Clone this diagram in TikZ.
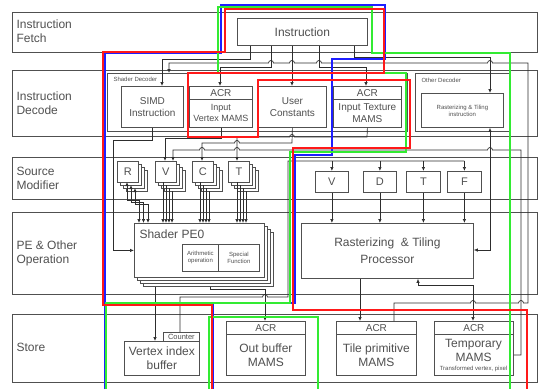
\documentclass[tikz,border=0pt]{standalone}
\usepackage{fontspec}
\setmainfont{Liberation Sans}
\usetikzlibrary{positioning,calc,arrows.meta}
\definecolor{DiagLine}{RGB}{45,45,45}
\definecolor{DiagBox}{RGB}{80,80,80}
\definecolor{DiagText}{RGB}{80,80,80}
\definecolor{MarkRed}{RGB}{255,25,25}
\definecolor{MarkGreen}{RGB}{50,235,50}
\definecolor{MarkBlue}{RGB}{30,30,255}

\tikzset{
  lane/.style={draw=DiagBox, line width=0.8pt, anchor=north west, inner sep=0pt},
  blk/.style={draw=DiagBox, line width=0.8pt, fill=white, inner sep=0pt, anchor=north west, align=center, text=DiagText},
  lanetext/.style={anchor=west, align=left, text=DiagText, font=\fontsize{12}{14}\selectfont},
  tinytext/.style={anchor=west, text=DiagText, font=\fontsize{6}{7}\selectfont},
  wire/.style={draw=DiagLine, line width=0.7pt},
  arr/.style={wire, -{Latex[length=4pt,width=3.5pt]}},
  darr/.style={wire, {Latex[length=4pt,width=3.5pt]}-{Latex[length=4pt,width=3.5pt]}},
  zone/.style={line width=1.2pt}
}

\begin{document}
\begin{tikzpicture}[x=1pt, y=-1pt]
    \useasboundingbox (0,0) rectangle (538,389);

    % lanes
    \node[lane, minimum width=525pt, minimum height=40pt] (fetch) at (12,12) {};
    \node[lane, minimum width=525pt, minimum height=66pt] (decode) at (12,70) {};
    \node[lane, minimum width=525pt, minimum height=42pt] (srcmod) at (12,157) {};
    \node[lane, minimum width=525pt, minimum height=82pt] (peop) at (12,212) {};
    \node[lane, minimum width=525pt, minimum height=68pt] (store) at (12,314) {};
    \node[lanetext] (fetchlbl) at (13,31) {Instruction\\Fetch};
    \node[lanetext] (decodelbl) at (13,103) {Instruction\\Decode};
    \node[lanetext] (srcmodlbl) at (13,178) {Source\\Modifier};
    \node[lanetext] (peoplbl) at (13,253) {PE \& Other\\Operation};
    \node[lanetext] (storelbl) at (13,347) {Store};

    % fetch and decode
    \node[blk, minimum width=130pt, minimum height=27pt, font=\fontsize{12}{14}\selectfont] (instr) at (237,18) {Instruction};
    \node[blk, minimum width=300pt, minimum height=58pt] (shdec) at (107,73) {};
    \node[tinytext] (shdeclbl) at (110,79) {Shader Decoder};
    \node[blk, minimum width=94pt, minimum height=58pt] (othdec) at (415,73) {};
    \node[tinytext] (othdeclbl) at (418,80) {Other Decoder};
    \node[blk, minimum width=82pt, minimum height=34pt, font=\fontsize{6}{7}\selectfont] (rtinst) at (421,93) {Rasterizing \& Tiling\\instruction};
    \node[blk, minimum width=62pt, minimum height=41pt, font=\fontsize{10}{12}\selectfont] (simd) at (121,86) {SIMD\\Instruction};
    \node[blk, minimum width=63pt, minimum height=13pt, font=\fontsize{10}{12}\selectfont] (ivacr) at (189,86) {ACR};
    \node[blk, minimum width=63pt, minimum height=28pt, font=\fontsize{9}{11}\selectfont] (ivm) at (189,99) {Input\\Vertex MAMS};
    \node[blk, minimum width=68pt, minimum height=41pt, font=\fontsize{10}{12}\selectfont] (ucon) at (258,86) {User\\Constants};
    \node[blk, minimum width=68pt, minimum height=13pt, font=\fontsize{10}{12}\selectfont] (itacr) at (333,86) {ACR};
    \node[blk, minimum width=68pt, minimum height=28pt, font=\fontsize{10}{12}\selectfont] (itm) at (333,99) {Input Texture\\MAMS};

    % source modifiers
    \foreach \n/\x in {R/117, V/155, C/192, T/228} {
      \foreach \k in {3,2,1}
        \node[blk, minimum width=21pt, minimum height=21pt] (\n\k) at (\x+3*\k,161+3*\k) {};
      \node[blk, minimum width=21pt, minimum height=21pt, font=\fontsize{11}{13}\selectfont] (\n) at (\x,161) {\n};
    }
    \node[blk, minimum width=33pt, minimum height=21pt, font=\fontsize{11}{13}\selectfont] (rV) at (315,171) {V};
    \node[blk, minimum width=33pt, minimum height=21pt, font=\fontsize{11}{13}\selectfont] (rD) at (363,171) {D};
    \node[blk, minimum width=34pt, minimum height=21pt, font=\fontsize{11}{13}\selectfont] (rT) at (406,171) {T};
    \node[blk, minimum width=34pt, minimum height=21pt, font=\fontsize{11}{13}\selectfont] (rF) at (447,171) {F};

    % processing
    \foreach \k in {3,2,1}
      \node[blk, minimum width=130pt, minimum height=54pt] (pe\k) at (134+3*\k,223+3*\k) {};
    \node[blk, minimum width=130pt, minimum height=54pt] (pe0) at (134,223) {};
    \node[anchor=west, text=DiagText, font=\fontsize{12}{14}\selectfont] (pe0lbl) at (136,234) {Shader PE0};
    \node[blk, minimum width=36pt, minimum height=27pt, font=\fontsize{6}{7}\selectfont] (arith) at (182,244) {Arithmetic\\operation};
    \node[blk, minimum width=41pt, minimum height=27pt, font=\fontsize{6}{7}\selectfont] (special) at (218,244) {Special\\Function};
    \node[blk, minimum width=172pt, minimum height=55pt, font=\fontsize{12}{17}\selectfont] (rtp) at (301,223) {Rasterizing\ \ \& Tiling\\Processor};

    % store
    \node[blk, minimum width=75pt, minimum height=34pt, font=\fontsize{12}{14}\selectfont] (vib) at (124,341) {Vertex index\\buffer};
    \node[blk, minimum width=36pt, minimum height=9pt, font=\fontsize{7.5}{8}\selectfont] (counter) at (163,332) {Counter};
    \node[blk, minimum width=79pt, minimum height=13pt, font=\fontsize{10}{12}\selectfont] (obacr) at (226,321) {ACR};
    \node[blk, minimum width=79pt, minimum height=41pt, font=\fontsize{12}{14}\selectfont] (obm) at (226,334) {Out buffer\\MAMS};
    \node[blk, minimum width=80pt, minimum height=13pt, font=\fontsize{10}{12}\selectfont] (tpacr) at (336,321) {ACR};
    \node[blk, minimum width=80pt, minimum height=41pt, font=\fontsize{12}{14}\selectfont] (tpm) at (336,334) {Tile primitive\\MAMS};
    \node[blk, minimum width=79pt, minimum height=13pt, font=\fontsize{10}{12}\selectfont] (tmacr) at (434,321) {ACR};
    \node[blk, minimum width=79pt, minimum height=41pt] (tmm) at (434,334) {};
    \node[align=center, text=DiagText, font=\fontsize{12}{14}\selectfont] (tmtxt) at (473.5,350) {Temporary\\MAMS};
    \node[text=DiagText, font=\fontsize{6}{7}\selectfont] (tmnote) at (473.5,369) {Transformed vertex, pixel};

    % instruction fan-out
    \draw[arr] (instr.south -| 250,0) |- (162,59) -- (simd.north -| 162,0);
    \draw[arr] (instr.south -| 271,0) |- (220,67) -- (ivacr.north -| 220,0);
    \draw[arr] (instr.south -| 292,0) -- (ucon.north -| 292,0);
    \draw[arr] (instr.south -| 319,0) |- (366,67) -- (itacr.north -| 366,0);
    \draw[arr] (instr.south -| 354,0) |- (490,57) -- (rtinst.north -| 490,0);
    % tile primitive back to shader decoder
    \draw[arr] (tpacr.north -| 394,0) -- (394,303) -- (470.5,303) arc (180:360:2.5) -- (518.5,303) arc (180:360:2.5)
      -- (528,303) -- (528,63) -- (492.5,63) arc (0:-180:2.5) -- (321.5,63) arc (0:-180:2.5)
      -- (294.5,63) arc (0:-180:2.5) -- (273.5,63) arc (0:-180:2.5) -- (169,63) -- (shdec.north -| 169,0);
    \draw[darr] (rtinst.south -| 490,0) |- (rtp.east |- 0,250);

    % decoders to source modifiers
    \draw[arr] (simd.south) |- (113,140) |- (pe0.west);
    \draw[arr] (ivm.south) |- (165,138) -- (V.north -| 165,0);
    \draw[arr] (ucon.south) -- (292,143) -- (239.5,143) arc (0:-180:2.5) -- (202,143) -- (C.north -| 202,0);
    \draw[arr] (itm.south) -- (367,137) -- (294.5,137) arc (0:-180:2.5) -- (237,137) -- (T.north -| 237,0);
    \draw[arr] (tmm.east |- 0,355) -| (521,150) -- (492.5,150) arc (0:-180:2.5) -- (239.5,150) arc (0:-180:2.5)
      -- (204.5,150) arc (0:-180:2.5) -- (173,150) -- (V.north -| 173,0);

    % source modifiers to PE0
    \foreach \i in {0,1,2}
      \draw[darr] (127+4*\i,182+3*\i) |- (139+4.5*\i,200+2*\i) -- (139+4.5*\i,223);
    \foreach \x in {163,200,237}
      \foreach \i in {0,...,3}
        \draw[arr] (\x+3*\i,182+3*\i) -- (\x+3*\i,223);

    % counter to raster inputs
    \draw[wire] (counter.north -| 180,0) |- (262.5,297) arc (180:360:2.5) -- (288,297) -- (288,161) -- (rF.north |- 0,161);
    \foreach \n in {rV,rD,rT,rF} {
      \draw[arr] (\n.north |- 0,161) -- (\n.north);
      \draw[arr] (\n.south) -- (\n.south |- rtp.north);
    }

    % outputs to store
    \draw[arr] (rtp.south -| 360,0) -- (tpacr.north -| 360,0);
    \draw[darr] (rtp.south -| 418,0) |- (473,285) -- (tmacr.north -| 473,0);
    \draw[arr] (pe3.south -| 210,0) |- (265,289) -- (obacr.north -| 265,0);
    \draw[arr] (pe3.south -| 155,0) -- (vib.north -| 155,0);

    % marked regions
    \draw[zone, MarkBlue] (105,389) -- (105,53) -- (221,53) -- (221,5) -- (385,5) -- (385,59) -- (332,59) -- (332,155)
      -- (295,155) -- (295,303) -- (213,303) -- (213,389);
    \draw[zone, MarkGreen] (106,389) -- (106,303) -- (290,303) -- (290,152) -- (406,152) -- (406,73) -- (218,73)
      -- (218,7) -- (372,7) -- (372,53) -- (510,53) -- (510,389);
    \draw[zone, MarkGreen] (209,389) -- (209,317) -- (318,317) -- (318,389);
    \draw[zone, MarkRed] (212,389) -- (212,305) -- (103,305) -- (103,52) -- (225,52) -- (225,9) -- (384,9) -- (384,73)
      -- (188,73) -- (188,137) -- (258,137) -- (258,80) -- (410,80) -- (410,148) -- (293,148) -- (293,310)
      -- (527,310) -- (527,389);
  \end{tikzpicture}
\end{document}
